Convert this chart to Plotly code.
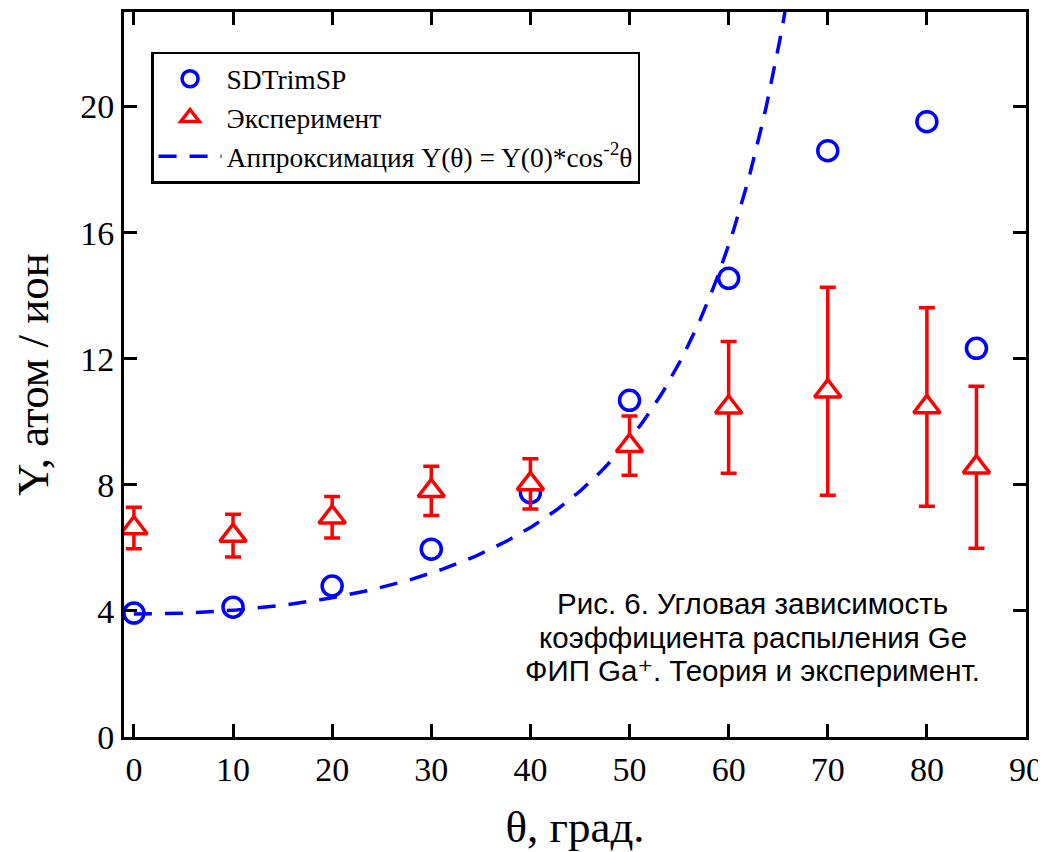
import numpy as np
import plotly.graph_objects as go

# --- data ---
theta = [0, 10, 20, 30, 40, 50, 60, 70, 80, 85]
y_sdtrim = [3.93, 4.12, 4.79, 5.96, 7.75, 10.68, 14.55, 18.6, 19.52, 12.33]
y_exp = [6.63, 6.39, 6.97, 7.81, 8.03, 9.24, 10.46, 10.97, 10.47, 8.56]
y_exp_err = [0.66, 0.68, 0.66, 0.78, 0.80, 0.94, 2.09, 3.30, 3.15, 2.57]
fit_y0 = 3.9          # Y(0) of the approximation Y(θ) = Y(0)*cos^-2 θ
fit_theta_max = 66.5  # curve drawn until it leaves the top of the plot

x_ticks = [0, 10, 20, 30, 40, 50, 60, 70, 80, 90]
y_ticks = [0, 4, 8, 12, 16, 20]

caption_lines = [
    "Рис. 6. Угловая зависимость",
    "коэффициента распыления Ge",
    "ФИП Ga⁺. Теория и эксперимент.",
]
caption_y = [0.1848, 0.1379, 0.0924]

fit_theta = np.linspace(0, fit_theta_max, 200)
fit_y = fit_y0 / np.cos(np.radians(fit_theta)) ** 2

SERIF = "Liberation Serif, Times New Roman, serif"
SANS = "Liberation Sans, Arial, DejaVu Sans, sans-serif"
BLUE = "#0000ff"
RED = "#ff0000"

fig = go.Figure()

fig.add_trace(go.Scatter(
    x=fit_theta, y=fit_y, mode="lines",
    name="Аппроксимация Y(θ) = Y(0)*cos<sup>-2</sup>θ",
    line=dict(color=BLUE, width=3.5, dash="18px,13px"),
    legendrank=3,
))

fig.add_trace(go.Scatter(
    x=theta, y=y_sdtrim, mode="markers", name="SDTrimSP",
    marker=dict(symbol="circle-open", size=20, color=BLUE,
                line=dict(width=3.5, color=BLUE)),
    legendrank=1,
))

fig.add_trace(go.Scatter(
    x=theta, y=y_exp, mode="markers", name="Эксперимент",
    marker=dict(symbol="triangle-up", size=23, color="white",
                line=dict(width=3.5, color=RED)),
    error_y=dict(type="data", array=y_exp_err, visible=True,
                 color=RED, thickness=3.5, width=8),
    legendrank=2,
))

axis_common = dict(
    showline=True, linewidth=3, linecolor="black", mirror="ticks",
    ticks="inside", ticklen=13, tickwidth=3, tickcolor="black",
    showgrid=False, zeroline=False, automargin=False,
    tickfont=dict(family=SERIF, size=34, color="black"),
)

fig.update_xaxes(
    range=[-1, 90], tickvals=x_ticks,
    title=dict(text="θ, град.", font=dict(family=SERIF, size=45, color="black"),
               standoff=24),
    **axis_common,
)
fig.update_yaxes(
    range=[0, 23], tickvals=y_ticks,
    title=dict(text="Y, атом / ион", font=dict(family=SERIF, size=45, color="black"),
               standoff=24),
    **axis_common,
)

for txt, yy in zip(caption_lines, caption_y):
    fig.add_annotation(
        x=0.697, y=yy, xref="paper", yref="paper", text=txt,
        showarrow=False, align="center", xanchor="center", yanchor="middle",
        font=dict(family=SANS, size=29.5, color="black"),
    )

fig.update_layout(
    width=1038, height=844,
    margin=dict(l=116, r=20, t=4, b=115),
    paper_bgcolor="white", plot_bgcolor="white",
    showlegend=True,
    legend=dict(
        x=0.030, y=0.945, xanchor="left", yanchor="top",
        bgcolor="white", bordercolor="black", borderwidth=2.5,
        font=dict(family=SERIF, size=27.5, color="black"),
        itemwidth=63, tracegroupgap=0,
    ),
)

fig.write_html("out.html")
